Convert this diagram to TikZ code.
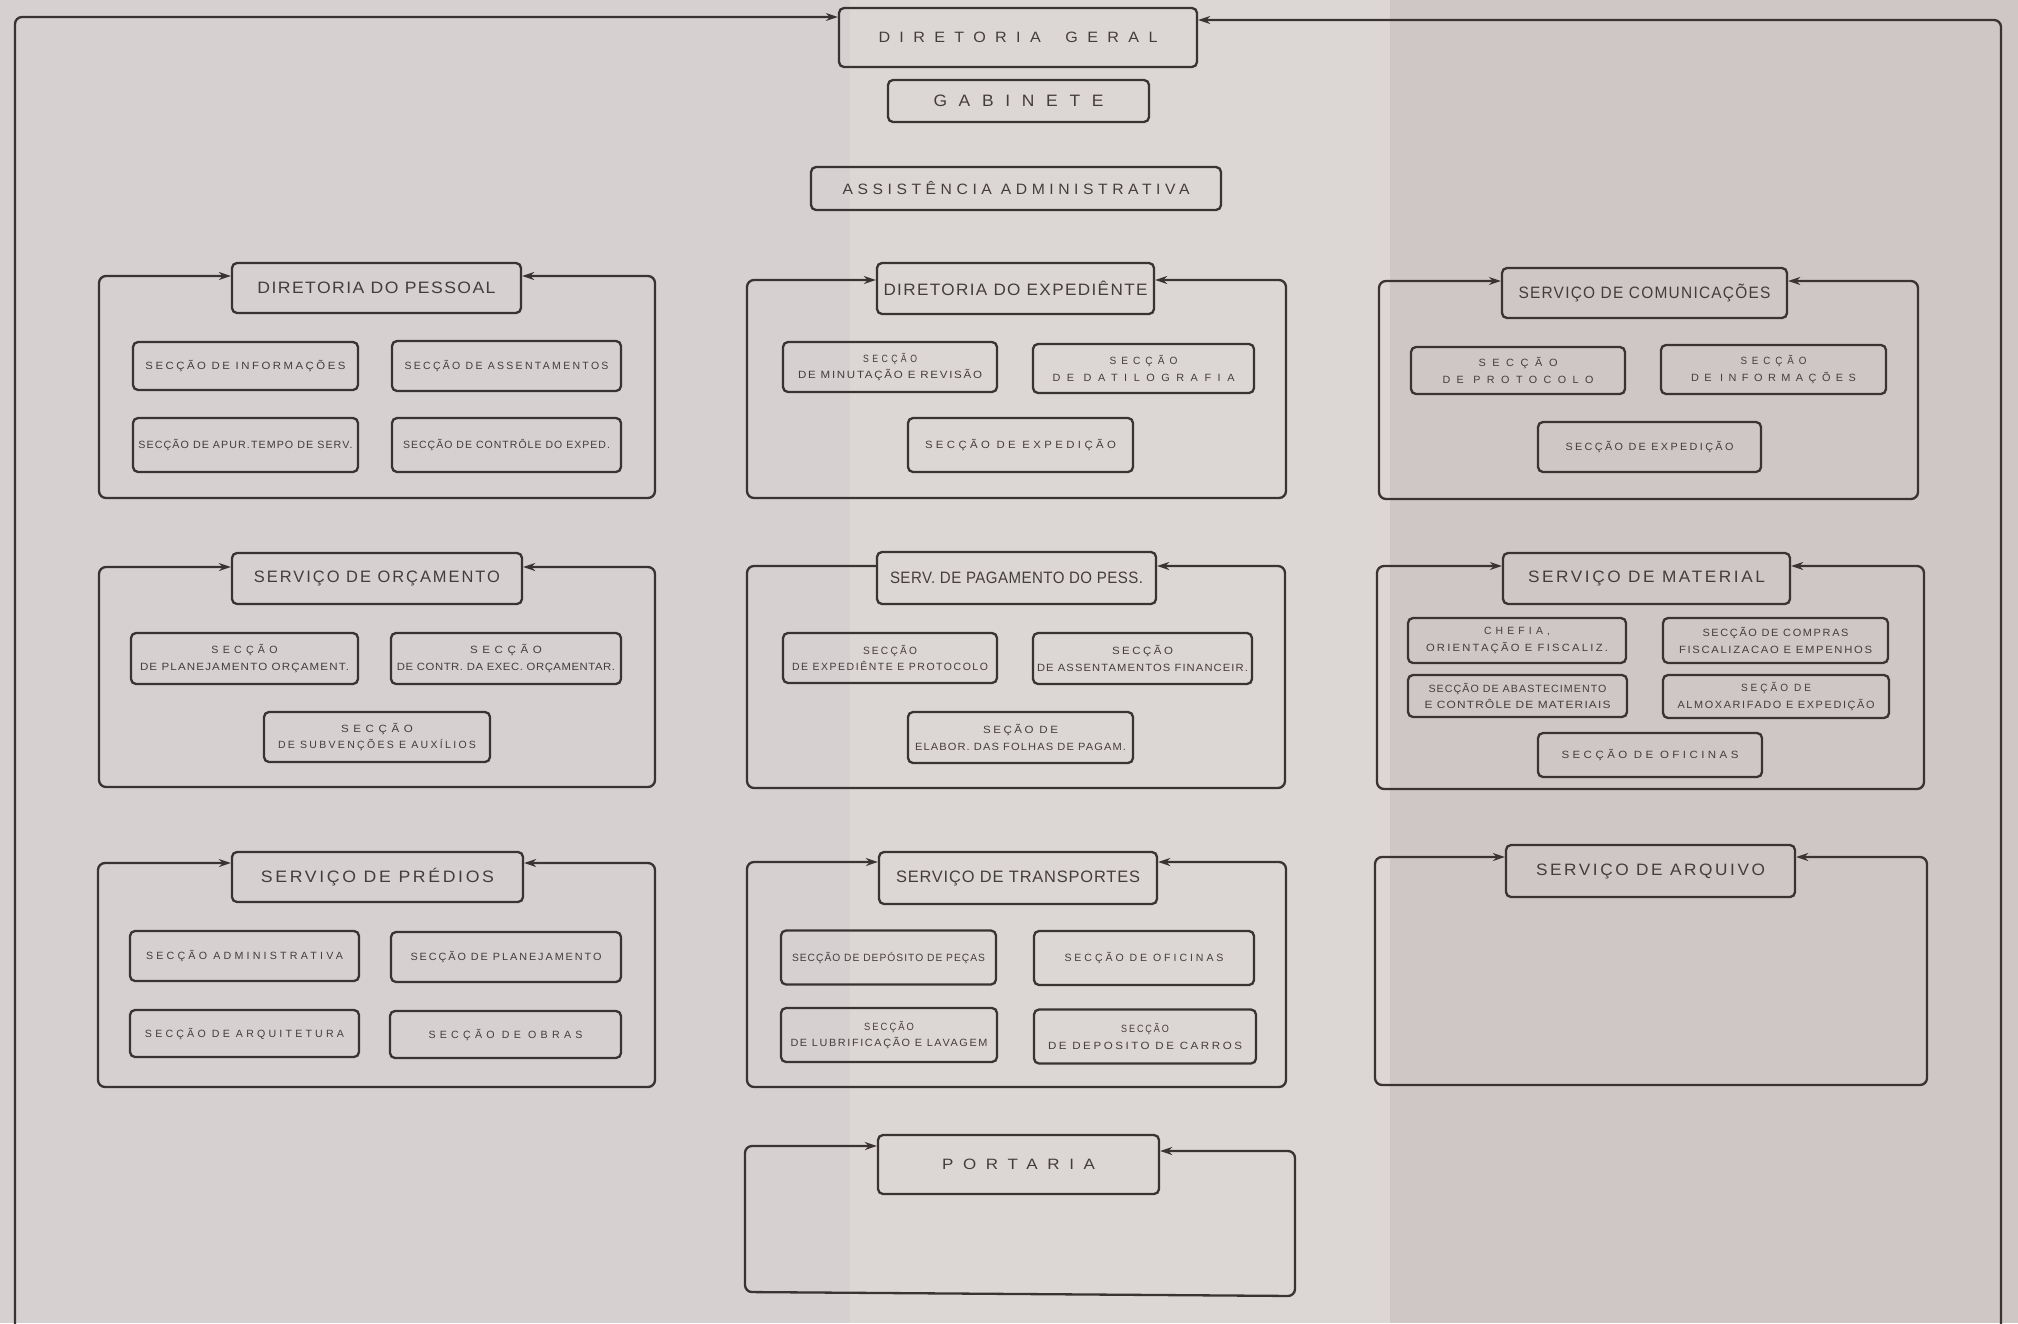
\documentclass[tikz,border=0pt]{standalone}
\usepackage{fontspec}
\setmainfont{Liberation Sans}
\usepackage{graphicx}
\usetikzlibrary{arrows.meta}
\definecolor{paperL}{HTML}{D6D0D0}
\definecolor{paperM}{HTML}{DCD6D4}
\definecolor{paperR}{HTML}{CFC7C6}
\definecolor{ink}{HTML}{3A3333}
\definecolor{txt}{HTML}{443D3D}
\newcommand\fw[3][22]{\resizebox{#2pt}{\height}{\addfontfeature{LetterSpace=#1}#3}}
\tikzset{
 bx/.style={draw=ink, line width=2.3pt, rounded corners=5pt, inner sep=0pt, align=center, text=txt},
 hd/.style={bx, font=\fontsize{16.5}{18}\selectfont},
 sb/.style={bx, font=\fontsize{10.5}{16.5}\selectfont},
 sz/.style 2 args={minimum width=#1pt, minimum height=#2pt},
 tipk/.tip={Stealth[length=12pt,width=8pt]},
 fr/.style={draw=ink, line width=2.3pt, rounded corners=7pt, tipk-tipk},
 frr/.style={draw=ink, line width=2.3pt, rounded corners=7pt, -tipk},
}
\begin{document}
\begin{tikzpicture}[x=1pt,y=-1pt]
\useasboundingbox (0,0) rectangle (2018,1323);
\clip (0,0) rectangle (2018,1323);
\fill[paperL] (0,0) rectangle (850,1323);
\fill[paperM] (850,0) rectangle (1390,1323);
\fill[paperR] (1390,0) rectangle (2018,1323);

% top
\node[hd, sz={358}{59}, font=\fontsize{15}{18}\selectfont] (dg) at (1018,37.5) {\fw[58]{279}{DIRETORIA\hspace{10pt} GERAL}};
\node[hd, sz={261}{42}] (gab) at (1018.5,101) {\fw[67]{170}{GABINETE}};
\node[hd, sz={410}{43}, font=\fontsize{15}{18}\selectfont] (ass) at (1016,188.5) {\fw[29]{347}{ASSISTÊNCIA ADMINISTRATIVA}};
\coordinate (otl) at (15,17);
\coordinate (obl) at (15,1345);
\coordinate (obr) at (2001,1345);
\coordinate (otr) at (2001,20);
\draw[fr] (dg.west |- otl) -- (otl) -- (obl) -- (obr) -- (otr) -- (dg.east |- otr);

% Diretoria do Pessoal
\node[hd, sz={289}{50}] (dp) at (376.5,288) {\fw[8]{238}{DIRETORIA DO PESSOAL}};
\coordinate (dptl) at (99,276);
\coordinate (dpbl) at (99,498);
\coordinate (dpbr) at (655,498);
\coordinate (dptr) at (655,276);
\draw[fr] (dp.west |- dptl) -- (dptl) -- (dpbl) -- (dpbr) -- (dptr) -- (dp.east |- dptr);
\node[sb, sz={225}{48}] (dp1) at (245.5,366) {\fw{200}{SECÇÃO DE INFORMAÇÕES}};
\node[sb, sz={229}{50}] (dp2) at (506.5,366) {\fw{204}{SECÇÃO DE ASSENTAMENTOS}};
\node[sb, sz={225}{54}] (dp3) at (245.5,445) {\fw[10]{214}{SECÇÃO DE APUR.TEMPO DE SERV.}};
\node[sb, sz={229}{54}] (dp4) at (506.5,445) {\fw[10]{207}{SECÇÃO DE CONTRÔLE DO EXPED.}};

% Diretoria do Expediente
\node[hd, sz={277}{51}] (de) at (1015.5,288.5) {\fw[8]{264}{DIRETORIA DO EXPEDIÊNTE}};
\coordinate (detl) at (747,280);
\coordinate (debl) at (747,498);
\coordinate (debr) at (1286,498);
\coordinate (detr) at (1286,280);
\draw[fr] (de.west |- detl) -- (detl) -- (debl) -- (debr) -- (detr) -- (de.east |- detr);
\node[sb, sz={214}{50}] (de1) at (890,367) {\fw[40]{54}{SECÇÃO}\\\fw[15]{184}{DE MINUTAÇÃO E REVISÃO}};
\node[sb, sz={221}{49}] (de2) at (1143.5,368.5) {\fw[50]{68}{SECÇÃO}\\\fw[60]{182}{DE DATILOGRAFIA}};
\node[sb, sz={225}{54}] (de3) at (1020.5,445) {\fw[30]{191}{SECÇÃO DE EXPEDIÇÃO}};

% Servico de Comunicacoes
\node[hd, sz={285}{50}] (sc) at (1644.5,293) {\fw[8]{252}{SERVIÇO DE COMUNICAÇÕES}};
\coordinate (sctl) at (1379,281);
\coordinate (scbl) at (1379,499);
\coordinate (scbr) at (1918,499);
\coordinate (sctr) at (1918,281);
\draw[fr] (sc.west |- sctl) -- (sctl) -- (scbl) -- (scbr) -- (sctr) -- (sc.east |- sctr);
\node[sb, sz={214}{47}] (sc1) at (1518,370.5) {\fw[60]{79}{SECÇÃO}\\\fw[60]{151}{DE PROTOCOLO}};
\node[sb, sz={225}{49}] (sc2) at (1773.5,369.5) {\fw[50]{66}{SECÇÃO}\\\fw[50]{165}{DE INFORMAÇÕES}};
\node[sb, sz={223}{50}] (sc3) at (1649.5,447) {\fw[22]{168}{SECÇÃO DE EXPEDIÇÃO}};

% Servico de Orcamento
\node[hd, sz={290}{51}] (so) at (377,578.5) {\fw[12]{246}{SERVIÇO DE ORÇAMENTO}};
\coordinate (sotl) at (99,567);
\coordinate (sobl) at (99,787);
\coordinate (sobr) at (655,787);
\coordinate (sotr) at (655,567);
\draw[fr] (so.west |- sotl) -- (sotl) -- (sobl) -- (sobr) -- (sotr) -- (so.east |- sotr);
\node[sb, sz={227}{51}] (so1) at (244.5,658.5) {\fw[40]{66}{SECÇÃO}\\\fw[10]{209}{DE PLANEJAMENTO ORÇAMENT.}};
\node[sb, sz={230}{51}] (so2) at (506,658.5) {\fw[40]{72}{SECÇÃO}\\\fw[5]{218}{DE CONTR. DA EXEC. ORÇAMENTAR.}};
\node[sb, sz={226}{50}] (so3) at (377,737) {\fw[40]{72}{SECÇÃO}\\\fw[22]{198}{DE SUBVENÇÕES E AUXÍLIOS}};

% Serv. de Pagamento do Pess.
\node[hd, sz={279}{52}] (pg) at (1016.5,578) {\fw[3]{253}{SERV. DE PAGAMENTO DO PESS.}};
\coordinate (pgtl) at (747,566);
\coordinate (pgbl) at (747,788);
\coordinate (pgbr) at (1285,788);
\coordinate (pgtr) at (1285,566);
\draw[frr] (pg.west |- pgtl) -- (pgtl) -- (pgbl) -- (pgbr) -- (pgtr) -- (pg.east |- pgtr);
\node[sb, sz={214}{50}] (pg1) at (890,658) {\fw[22]{54}{SECÇÃO}\\\fw[15]{196}{DE EXPEDIÊNTE E PROTOCOLO}};
\node[sb, sz={219}{51}] (pg2) at (1142.5,658.5) {\fw[22]{61}{SECÇÃO}\\\fw[10]{211}{DE ASSENTAMENTOS FINANCEIR.}};
\node[sb, sz={225}{51}] (pg3) at (1020.5,737.5) {\fw[22]{75}{SEÇÃO DE}\\\fw[10]{211}{ELABOR. DAS FOLHAS DE PAGAM.}};

% Servico de Material
\node[hd, sz={287}{51}] (sm) at (1646.5,578.5) {\fw[15]{237}{SERVIÇO DE MATERIAL}};
\coordinate (smtl) at (1377,566);
\coordinate (smbl) at (1377,789);
\coordinate (smbr) at (1924,789);
\coordinate (smtr) at (1924,566);
\draw[fr] (sm.west |- smtl) -- (smtl) -- (smbl) -- (smbr) -- (smtr) -- (sm.east |- smtr);
\node[sb, sz={218}{45}] (sm1) at (1517,640.5) {\fw[40]{66}{CHEFIA,}\\\fw[20]{182}{ORIENTAÇÃO E FISCALIZ.}};
\node[sb, sz={225}{45}] (sm2) at (1775.5,640.5) {\fw[15]{146}{SECÇÃO DE COMPRAS}\\\fw[15]{193}{FISCALIZACAO E EMPENHOS}};
\node[sb, sz={219}{42}] (sm3) at (1517.5,696) {\fw[10]{178}{SECÇÃO DE ABASTECIMENTO}\\\fw[10]{186}{E CONTRÔLE DE MATERIAIS}};
\node[sb, sz={226}{43}] (sm4) at (1776,696.5) {\fw[30]{70}{SEÇÃO DE}\\\fw[15]{197}{ALMOXARIFADO E EXPEDIÇÃO}};
\node[sb, sz={224}{44}] (sm5) at (1650,755) {\fw[30]{177}{SECÇÃO DE OFICINAS}};

% Servico de Predios
\node[hd, sz={291}{50}] (spr) at (377.5,877) {\fw[15]{233}{SERVIÇO DE PRÉDIOS}};
\coordinate (prtl) at (98,863);
\coordinate (prbl) at (98,1087);
\coordinate (prbr) at (655,1087);
\coordinate (prtr) at (655,863);
\draw[fr] (spr.west |- prtl) -- (prtl) -- (prbl) -- (prbr) -- (prtr) -- (spr.east |- prtr);
\node[sb, sz={229}{50}] (pr1) at (244.5,956) {\fw[30]{197}{SECÇÃO ADMINISTRATIVA}};
\node[sb, sz={230}{50}] (pr2) at (506,957) {\fw[18]{191}{SECÇÃO DE PLANEJAMENTO}};
\node[sb, sz={229}{47}] (pr3) at (244.5,1033.5) {\fw[30]{199}{SECÇÃO DE ARQUITETURA}};
\node[sb, sz={231}{47}] (pr4) at (505.5,1034.5) {\fw[40]{154}{SECÇÃO DE OBRAS}};

% Servico de Transportes
\node[hd, sz={278}{52}] (st) at (1018,878) {\fw[5]{244}{SERVIÇO DE TRANSPORTES}};
\coordinate (sttl) at (747,862);
\coordinate (stbl) at (747,1087);
\coordinate (stbr) at (1286,1087);
\coordinate (sttr) at (1286,862);
\draw[fr] (st.west |- sttl) -- (sttl) -- (stbl) -- (stbr) -- (sttr) -- (st.east |- sttr);
\node[sb, sz={215}{54}] (st1) at (888.5,957.5) {\fw[10]{193}{SECÇÃO DE DEPÓSITO DE PEÇAS}};
\node[sb, sz={220}{54}] (st2) at (1144,958) {\fw[28]{159}{SECÇÃO DE OFICINAS}};
\node[sb, sz={216}{54}] (st3) at (889,1035) {\fw[22]{50}{SECÇÃO}\\\fw[15]{197}{DE LUBRIFICAÇÃO E LAVAGEM}};
\node[sb, sz={222}{54}] (st4) at (1145,1036.5) {\fw[22]{48}{SECÇÃO}\\\fw[22]{194}{DE DEPOSITO DE CARROS}};

% Servico de Arquivo
\node[hd, sz={289}{52}] (sa) at (1650.5,871) {\fw[15]{229}{SERVIÇO DE ARQUIVO}};
\coordinate (satl) at (1375,857);
\coordinate (sabl) at (1375,1085);
\coordinate (sabr) at (1927,1085);
\coordinate (satr) at (1927,857);
\draw[fr] (sa.west |- satl) -- (satl) -- (sabl) -- (sabr) -- (satr) -- (sa.east |- satr);

% Portaria
\node[hd, sz={281}{59}, font=\fontsize{15}{18}\selectfont] (pt) at (1018.5,1164.5) {\fw[57]{153}{PORTARIA}};
\coordinate (pttl) at (745,1146);
\coordinate (ptbl) at (745,1292);
\coordinate (ptbr) at (1295,1296);
\coordinate (pttr) at (1295,1151);
\draw[fr] (pt.west |- pttl) -- (pttl) -- (ptbl) -- (ptbr) -- (pttr) -- (pt.east |- pttr);
\end{tikzpicture}
\end{document}
